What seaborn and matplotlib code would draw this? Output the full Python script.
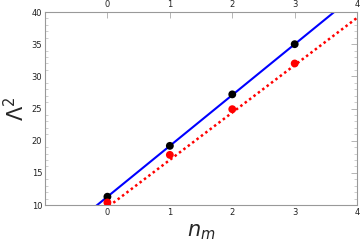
import numpy as np
import pandas as pd
import matplotlib
matplotlib.use('Agg')
import matplotlib.pyplot as plt
import seaborn as sns
from matplotlib.ticker import MultipleLocator

# data
n_m = [0, 1, 2, 3]
black_pts = [11.3, 19.2, 27.2, 35.0]
red_pts = [10.4, 17.8, 24.9, 32.0]

# straight lines, values read at the axis ends x=-1 and x=4
line_x = [-1, 4]
blue_line = [3.4, 42.9]
red_line = [2.3, 39.1]

sns.set_theme(style='white')
plt.rcParams['font.family'] = ['DejaVu Sans']
plt.rcParams['mathtext.fontset'] = 'dejavusans'

fig, ax = plt.subplots(figsize=(3.6, 2.45), dpi=100)
fig.subplots_adjust(left=0.125, right=0.992, top=0.951, bottom=0.163)

sns.lineplot(x=line_x, y=blue_line, color='#0000ff', lw=1.5, ax=ax)
sns.lineplot(x=line_x, y=red_line, color='#ff0000', lw=1.8, ls=(0, (1, 1.2)), ax=ax)
sns.scatterplot(x=n_m, y=black_pts, color='black', s=32, edgecolor='none', zorder=5, ax=ax)
sns.scatterplot(x=n_m, y=red_pts, color='#ff0000', s=32, edgecolor='none', zorder=5, ax=ax)

ax.set_xlim(-1, 4)
ax.set_ylim(10, 40)
ax.set_xticks([0, 1, 2, 3, 4])
ax.set_yticks([10, 15, 20, 25, 30, 35, 40])
ax.yaxis.set_minor_locator(MultipleLocator(1))

for s in ax.spines.values():
    s.set_color('#999999')
    s.set_linewidth(0.8)

ax.tick_params(axis='both', which='major', direction='in', length=4, width=0.6,
               color='#aaaaaa', labelsize=6, labelcolor='#222222', pad=2,
               top=True, right=True, labeltop=True, labelright=False)
ax.tick_params(axis='y', which='minor', direction='in', length=2, width=0.5,
               color='#bbbbbb', left=True, right=True)

ax.set_xlabel(r'$n_m$', fontsize=15, labelpad=4)
ax.set_ylabel(r'$\mathrm{\Lambda}^2$', fontsize=15)
ax.yaxis.set_label_coords(-0.055, 0.5)

fig.savefig('out.png', dpi=100)
